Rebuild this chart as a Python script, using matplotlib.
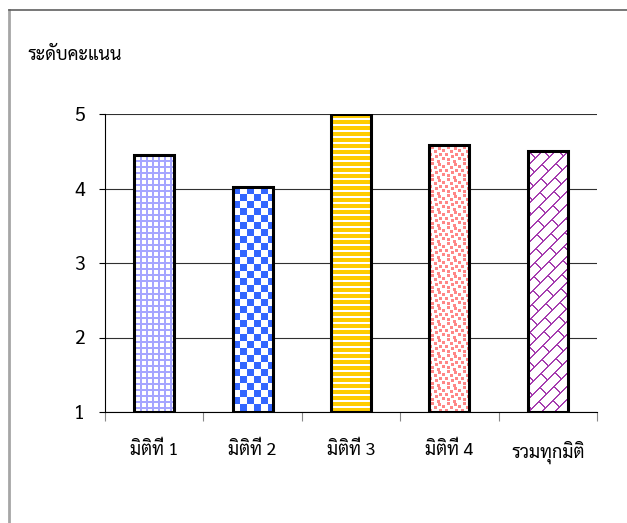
import numpy as np
import matplotlib
matplotlib.use("Agg")
import matplotlib.pyplot as plt
from matplotlib.lines import Line2D

plt.rcParams['font.family'] = ['Sarabun', 'Noto Sans Thai Looped', 'DejaVu Sans']

categories = ['มิติที่ 1', 'มิติที่ 2', 'มิติที่ 3', 'มิติที่ 4', 'รวมทุกมิติ']
scores = [4.45, 4.02, 5.00, 4.58, 4.50]
yticks = [1, 2, 3, 4, 5]
ylabel = 'ระดับคะแนน'

W, H = 627, 523
fig = plt.figure(figsize=(W / 100, H / 100), dpi=100)
ax = fig.add_axes([105 / W, 1 - 412 / H, 492 / W, 298 / H])

# little pattern fills, like the office chart had
def grid_fill(r, c):
    img = np.full(r.shape + (3,), 255, dtype=np.uint8)
    m = (r % 6 < 2) | (c % 6 < 2)
    img[m] = (165, 165, 255)
    return img

def checker_fill(r, c):
    img = np.full(r.shape + (3,), 255, dtype=np.uint8)
    m = ((r // 7 + c // 7) % 2) == 0
    img[m] = (51, 102, 255)
    return img

def stripe_fill(r, c):
    img = np.full(r.shape + (3,), 255, dtype=np.uint8)
    img[r % 6 < 4] = (255, 204, 0)
    return img

dots = [(1, 2), (2, 9), (4, 13), (5, 5), (8, 0), (8, 10), (10, 6), (12, 13), (13, 2), (15, 8)]

def confetti_fill(r, c):
    img = np.full(r.shape + (3,), 255, dtype=np.uint8)
    rr, cc = r % 16, c % 16
    m = np.zeros(r.shape, dtype=bool)
    for dr, dc in dots:
        m |= ((rr - dr) % 16 < 3) & ((cc - dc) % 16 < 3)
    img[m] = (255, 135, 135)
    return img

def brick_fill(r, c):
    img = np.full(r.shape + (3,), 255, dtype=np.uint8)
    u = c + r
    v = c - r
    k = u // 13
    m = (u % 13 < 1.6) | (((v + k * 15) % 30) < 1.6)
    img[m] = (165, 60, 175)
    return img

fills = [grid_fill, checker_fill, stripe_fill, confetti_fill, brick_fill]

x = np.arange(len(categories))
base = yticks[0]
bars = ax.bar(x, np.array(scores) - base, bottom=base, width=0.405,
              facecolor='none', edgecolor='black', linewidth=2.2, zorder=3)

ax.set_xlim(-0.5, len(categories) - 0.5)
ax.set_ylim(yticks[0], yticks[-1])

for b, fill in zip(bars, fills):
    x0, y0, bw, bh = b.get_x(), b.get_y(), b.get_width(), b.get_height()
    p0 = ax.transData.transform((x0, y0))
    p1 = ax.transData.transform((x0 + bw, y0 + bh))
    nc = max(int(round(p1[0] - p0[0])), 1)
    nr = max(int(round(p1[1] - p0[1])), 1)
    r, c = np.indices((nr, nc))
    im = ax.imshow(fill(r, c), extent=(x0, x0 + bw, y0, y0 + bh),
                   aspect='auto', interpolation='nearest', zorder=2)
    im.set_clip_path(b)

ax.set_xlim(-0.5, len(categories) - 0.5)
ax.set_ylim(yticks[0], yticks[-1])

ax.set_yticks(yticks)
ax.yaxis.grid(True, color='#303030', linewidth=0.8)
ax.set_axisbelow(True)
ax.tick_params(axis='y', length=4.5, width=0.8, pad=10, labelsize=14)

ax.set_xticks(x)
ax.set_xticklabels(categories)
ax.set_xticks(np.arange(len(categories) + 1) - 0.5, minor=True)
ax.tick_params(axis='x', which='major', length=0, pad=21, labelsize=13)
ax.tick_params(axis='x', which='minor', length=6.5, width=0.8, color='#888888')

for s in ['top', 'right']:
    ax.spines[s].set_visible(False)
ax.spines['left'].set_linewidth(0.8)
ax.spines['bottom'].set_linewidth(0.8)

fig.text(27 / W, 1 - 55 / H, ylabel, fontsize=13, va='center', ha='left')

# chart frame: only its top and left edges show
fig.add_artist(Line2D([8.5 / W, 8.5 / W], [0, 1 - 10 / H], color='#a6a6a6', linewidth=2))
fig.add_artist(Line2D([8.5 / W, 1], [1 - 10 / H, 1 - 10 / H], color='#606060', linewidth=1.2))

fig.savefig('out.png', dpi=100)
